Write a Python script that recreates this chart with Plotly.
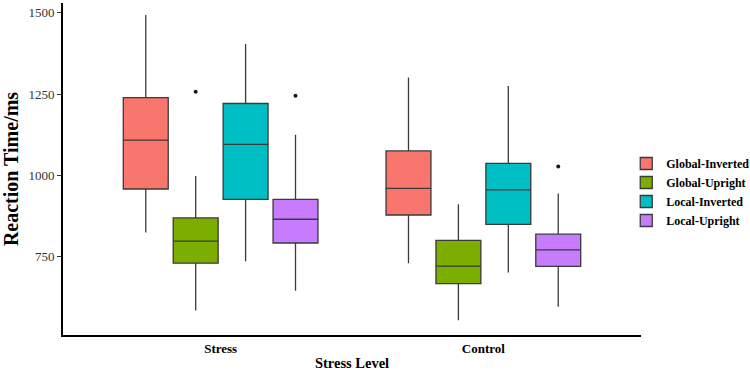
import plotly.graph_objects as go

# ---- data ----
levels = ["Stress", "Control"]
conditions = ["Global-Inverted", "Global-Upright", "Local-Inverted", "Local-Upright"]
colors = ["#F8766D", "#7CAE00", "#00BFC4", "#C77CFF"]

lower_whisker = {
    "Global-Inverted": [824, 730],
    "Global-Upright": [584, 554],
    "Local-Inverted": [736, 701],
    "Local-Upright": [645, 596],
}
q1_vals = {
    "Global-Inverted": [958, 878],
    "Global-Upright": [730, 667],
    "Local-Inverted": [926, 849],
    "Local-Upright": [792, 720],
}
median_vals = {
    "Global-Inverted": [1108, 960],
    "Global-Upright": [798, 721],
    "Local-Inverted": [1095, 955],
    "Local-Upright": [865, 771],
}
q3_vals = {
    "Global-Inverted": [1239, 1075],
    "Global-Upright": [869, 800],
    "Local-Inverted": [1221, 1037],
    "Local-Upright": [926, 819],
}
upper_whisker = {
    "Global-Inverted": [1493, 1301],
    "Global-Upright": [998, 911],
    "Local-Inverted": [1404, 1275],
    "Local-Upright": [1125, 944],
}
outliers = {
    "Global-Inverted": [[], []],
    "Global-Upright": [[1257], []],
    "Local-Inverted": [[], []],
    "Local-Upright": [[1245], [1027]],
}

y_ticks = [750, 1000, 1250, 1500]

SERIF = "Liberation Serif"

fig = go.Figure()
for cond, col in zip(conditions, colors):
    pts = outliers[cond]
    has_pts = any(len(p) > 0 for p in pts)
    fig.add_trace(go.Box(
        name=cond,
        x=levels,
        y=pts if has_pts else None,
        q1=q1_vals[cond],
        median=median_vals[cond],
        q3=q3_vals[cond],
        lowerfence=lower_whisker[cond],
        upperfence=upper_whisker[cond],
        boxpoints="outliers" if has_pts else False,
        fillcolor=col,
        line=dict(color="#3a3a3a", width=1.3),
        marker=dict(color="#1a1a1a", size=4, outliercolor="#1a1a1a",
                    line=dict(width=0)),
        whiskerwidth=0,
    ))

fig.update_layout(
    width=750, height=371,
    margin=dict(l=63, r=109, t=3, b=36, autoexpand=False),
    paper_bgcolor="white", plot_bgcolor="white",
    boxmode="group", boxgap=0.24, boxgroupgap=0.1,
    font=dict(family=SERIF, color="black"),
    legend=dict(
        xref="container", yref="container",
        x=0.835, xanchor="left", y=0.4825, yanchor="middle",
        font=dict(family=SERIF, size=12, color="black", weight="bold"),
        tracegroupgap=0, itemwidth=30,
        bgcolor="rgba(0,0,0,0)",
    ),
    showlegend=True,
)

fig.update_xaxes(
    type="category",
    categoryorder="array", categoryarray=levels,
    range=[-0.6, 1.6],
    showline=True, linecolor="black", linewidth=2,
    showgrid=False, zeroline=False, ticks="",
    tickfont=dict(family=SERIF, size=13, color="black", weight="bold"),
    title=dict(text="<b>Stress Level</b>", font=dict(family=SERIF, size=14.5, color="black"),
               standoff=5),
)
fig.update_yaxes(
    range=[509, 1530],
    tickvals=y_ticks, ticktext=[str(v) for v in y_ticks],
    showline=True, linecolor="black", linewidth=2,
    showgrid=False, zeroline=False,
    ticks="outside", ticklen=4, tickcolor="#333333", tickwidth=1,
    tickfont=dict(family=SERIF, size=13, color="#333333"),
    title=dict(text="<b>Reaction Time/ms</b>", font=dict(family=SERIF, size=20, color="black"),
               standoff=13),
)

fig.write_html("out.html")
